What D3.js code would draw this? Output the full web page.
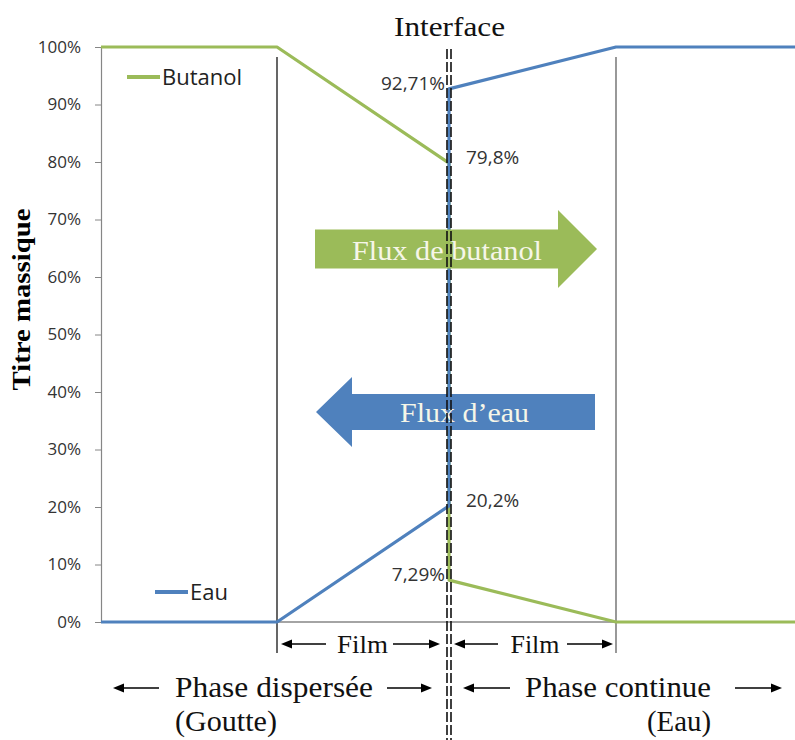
<!DOCTYPE html>
<html lang="fr">
<head>
<meta charset="utf-8">
<title>Titre massique – interface butanol / eau</title>
<script src="https://cdn.jsdelivr.net/npm/d3@7"></script>
<style>
  html, body { margin: 0; padding: 0; background: #fff; }
  svg { display: block; }
</style>
</head>
<body>
<div id="chart"></div>
<script>
// Zones along the horizontal axis: goutte | film | interface | film | eau
const zoneStops = [0, 1, 2, 3, 4];
// Abscissa of every profile point (the interface appears twice: jump in concentration)
const xPoints = [0, 1, 2, 2, 3, 4];
// Mass fraction profiles (%)
const butanol = [100, 100, 79.8, 7.29, 0, 0];
const eau = [0, 0, 20.2, 92.71, 100, 100];
// Vertical axis ticks (%)
const yTicks = [0, 10, 20, 30, 40, 50, 60, 70, 80, 90, 100];
const seriesNames = ["Butanol", "Eau"];
const seriesColors = ["#9bbb59", "#4f81bd"];

const W = 795, H = 740;
const svg = d3.select("#chart").append("svg")
  .attr("width", W).attr("height", H)
  .attr("viewBox", `0 0 ${W} ${H}`);

const x = d3.scaleLinear().domain(zoneStops).range([101, 277, 449, 616, 795]);
const y = d3.scaleLinear().domain([0, 100]).range([622, 47]);

const SANS = "'Open Sans', 'Liberation Sans', sans-serif";
const SERIF = "'Liberation Serif', 'DejaVu Serif', serif";

// ---- Axes ----
const yAxis = d3.axisLeft(y).tickValues(yTicks).tickSize(6).tickPadding(14)
  .tickFormat(d => d + "%");
const gy = svg.append("g").attr("transform", `translate(${x(0)},0)`).call(yAxis);
gy.select(".domain").attr("stroke", "#868686").attr("stroke-width", 1.2);
gy.selectAll(".tick line").attr("stroke", "#868686");
gy.selectAll(".tick text")
  .attr("font-family", SANS).attr("font-size", 17).attr("fill", "#333");

svg.append("line")
  .attr("x1", x(0)).attr("x2", x(4)).attr("y1", y(0)).attr("y2", y(0))
  .attr("stroke", "#868686").attr("stroke-width", 1.5);

// Y title
svg.append("text")
  .attr("transform", `translate(30,${(y(0) + y(100)) / 2 - 35}) rotate(-90)`)
  .attr("text-anchor", "middle")
  .attr("font-family", SERIF).attr("font-weight", "bold").attr("font-size", 26)
  .attr("textLength", 182).attr("lengthAdjust", "spacingAndGlyphs")
  .attr("fill", "#000")
  .text("Titre massique");

// ---- Film boundaries ----
svg.append("line")
  .attr("x1", x(1)).attr("x2", x(1)).attr("y1", 57).attr("y2", 653)
  .attr("stroke", "#000").attr("stroke-width", 1.2);
svg.append("line")
  .attr("x1", x(3)).attr("x2", x(3)).attr("y1", 57).attr("y2", 653)
  .attr("stroke", "#7f7f7f").attr("stroke-width", 1.6);

// ---- Profiles ----
const line = d3.line().x((d, i) => x(xPoints[i])).y(d => y(d));
[butanol, eau].forEach((vals, k) => {
  svg.append("path")
    .datum(vals)
    .attr("d", line)
    .attr("fill", "none")
    .attr("stroke", seriesColors[k])
    .attr("stroke-width", 3.2)
    .attr("stroke-linejoin", "round");
});

// ---- Flux arrows ----
function blockArrow(x0, x1, yc, bodyHalf, headHalf, headLen, dir) {
  // dir = 1 pointing right, -1 pointing left
  const p = d3.path();
  if (dir > 0) {
    const hb = x1 - headLen;
    p.moveTo(x0, yc - bodyHalf);
    p.lineTo(hb, yc - bodyHalf);
    p.lineTo(hb, yc - headHalf);
    p.lineTo(x1, yc);
    p.lineTo(hb, yc + headHalf);
    p.lineTo(hb, yc + bodyHalf);
    p.lineTo(x0, yc + bodyHalf);
  } else {
    const hb = x0 + headLen;
    p.moveTo(x1, yc - bodyHalf);
    p.lineTo(hb, yc - bodyHalf);
    p.lineTo(hb, yc - headHalf);
    p.lineTo(x0, yc);
    p.lineTo(hb, yc + headHalf);
    p.lineTo(hb, yc + bodyHalf);
    p.lineTo(x1, yc + bodyHalf);
  }
  p.closePath();
  return p.toString();
}

svg.append("path")
  .attr("d", blockArrow(315, 597, 249, 19.5, 39, 39, 1))
  .attr("fill", "#9bbb59");
svg.append("text")
  .attr("x", 447).attr("y", 260).attr("text-anchor", "middle")
  .attr("font-family", SERIF).attr("font-size", 27).attr("fill", "#f6f6e8")
  .attr("textLength", 190).attr("lengthAdjust", "spacingAndGlyphs")
  .text("Flux de butanol");

svg.append("path")
  .attr("d", blockArrow(316, 595, 412, 18, 35, 36, -1))
  .attr("fill", "#4f81bd");
svg.append("text")
  .attr("x", 464.5).attr("y", 422).attr("text-anchor", "middle")
  .attr("font-family", SERIF).attr("font-size", 27).attr("fill", "#f6f6e8")
  .attr("textLength", 129).attr("lengthAdjust", "spacingAndGlyphs")
  .text("Flux d\u2019eau");

// ---- Interface (double dashed line) ----
[-2, 2].forEach(dx => {
  svg.append("line")
    .attr("x1", x(2) + dx).attr("x2", x(2) + dx)
    .attr("y1", 49).attr("y2", H)
    .attr("stroke", "#111").attr("stroke-width", 1.6)
    .attr("stroke-dasharray", "10,3");
});
svg.append("text")
  .attr("x", 449.5).attr("y", 36).attr("text-anchor", "middle")
  .attr("font-family", SERIF).attr("font-size", 28).attr("fill", "#111")
  .attr("textLength", 111).attr("lengthAdjust", "spacingAndGlyphs")
  .text("Interface");

// ---- Data labels at the interface ----
const fmt = v => String(v).replace(".", ",") + "%";
const labels = [
  { v: eau[3], side: -1 },
  { v: butanol[2], side: 1 },
  { v: eau[2], side: 1 },
  { v: butanol[3], side: -1 }
];
labels.forEach(l => {
  svg.append("text")
    .attr("x", x(2) + (l.side > 0 ? 17 : -4))
    .attr("y", y(l.v) + 1)
    .attr("text-anchor", l.side > 0 ? "start" : "end")
    .attr("font-family", SANS).attr("font-size", 19).attr("fill", "#333")
    .text(fmt(l.v));
});

// ---- Legend ----
const legendPos = [{ x: 127, y: 77 }, { x: 155, y: 592 }];
seriesNames.forEach((name, k) => {
  const p = legendPos[k];
  svg.append("line")
    .attr("x1", p.x).attr("x2", p.x + 33).attr("y1", p.y).attr("y2", p.y)
    .attr("stroke", seriesColors[k]).attr("stroke-width", 4);
  svg.append("text")
    .attr("x", p.x + 35).attr("y", p.y + 8)
    .attr("font-family", SANS).attr("font-size", 22).attr("fill", "#222")
    .text(name);
});

// ---- Region annotations ----
function thinArrow(xa, xb, yy) {
  // arrow from xa toward xb, head at xb
  const dir = xb > xa ? 1 : -1;
  svg.append("line")
    .attr("x1", xa).attr("x2", xb - dir * 8).attr("y1", yy).attr("y2", yy)
    .attr("stroke", "#000").attr("stroke-width", 1.3);
  svg.append("path")
    .attr("d", `M${xb},${yy} L${xb - dir * 11},${yy - 4.5} L${xb - dir * 11},${yy + 4.5} Z`)
    .attr("fill", "#000");
}
function serifText(t, xx, yy, size, anchor, len) {
  const s = svg.append("text")
    .attr("x", xx).attr("y", yy).attr("text-anchor", anchor)
    .attr("font-family", SERIF).attr("font-size", size).attr("fill", "#111")
    .text(t);
  if (len) s.attr("textLength", len).attr("lengthAdjust", "spacingAndGlyphs");
  return s;
}

// Films
thinArrow(326, 281, 644); thinArrow(393, 440, 644);
serifText("Film", 362.5, 653, 25, "middle", 51);
thinArrow(498, 454, 644); thinArrow(567, 613, 644);
serifText("Film", 535, 653, 25, "middle", 49);

// Phases
thinArrow(159, 113, 688); thinArrow(387, 432, 688);
serifText("Phase dispersée", 175, 697, 30, "start", 198);
serifText("(Goutte)", 175, 731, 30, "start", 102);

thinArrow(510, 463, 688); thinArrow(735, 782, 688);
serifText("Phase continue", 711, 697, 30, "end", 186);
serifText("(Eau)", 711, 731, 30, "end", 64);
</script>
</body>
</html>
